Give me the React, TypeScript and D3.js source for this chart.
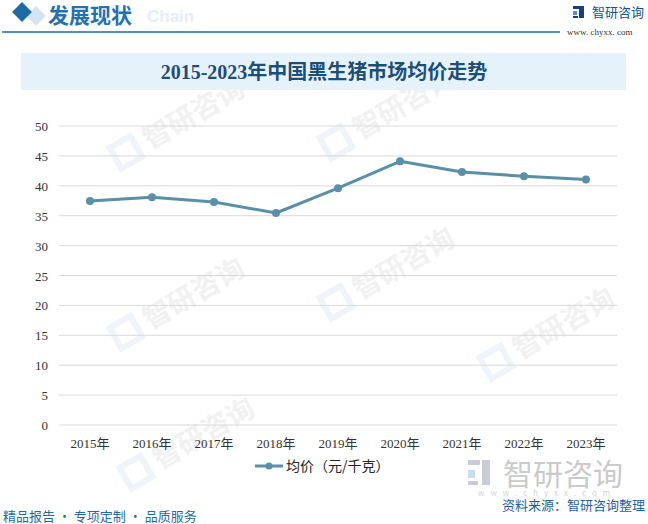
import React from "react";
import * as d3 from "d3";

const years = ["2015年", "2016年", "2017年", "2018年", "2019年", "2020年", "2021年", "2022年", "2023年"];
const prices = [37.45, 38.1, 37.3, 35.45, 39.6, 44.1, 42.3, 41.6, 41.05];
const yTicks = [0, 5, 10, 15, 20, 25, 30, 35, 40, 45, 50];
const seriesName = "均价（元/千克）";
const chartTitle = "2015-2023年中国黑生猪市场均价走势";

const W = 648;
const H = 524;
const left = 59;
const right = 617;
const top = 126;
const bottom = 425;
const lineColor = "#5a8fa8";

export default function App() {
  const x = d3.scaleBand<string>().domain(years).range([left, right]);
  const y = d3.scaleLinear().domain([0, 50]).range([bottom, top]);
  const cx = (d: string) => (x(d) as number) + x.bandwidth() / 2;
  const line = d3
    .line<number>()
    .x((_, i) => cx(years[i]))
    .y((v) => y(v));

  const wm = [
    [150, 150], [360, 140], [150, 330], [360, 300], [520, 360], [160, 470],
  ];

  return (
    <svg
      width={W}
      height={H}
      style={{ position: "absolute", left: 0, top: 0, background: "#fff" }}
      fontFamily="'Noto Sans CJK SC', sans-serif"
    >
      <defs>
        <linearGradient id="fl" x1="0" x2="1" y1="0" y2="0">
          <stop offset="0" stopColor="#1f5f98" />
          <stop offset="1" stopColor="#8fb4d2" />
        </linearGradient>
      </defs>
      {/* faint watermarks */}
      {wm.map(([wx, wy], i) => (
        <g key={i} transform={`translate(${wx},${wy}) rotate(-30)`}>
          <rect x={-34} y={-22} width={24} height={24} fill="none" stroke="#eef4f9" strokeWidth={6} />
          <text x={0} y={0} fontSize={28} fill="#f1f1f1" fontWeight={700}>智研咨询</text>
        </g>
      ))}

      {/* header */}
      <rect x={24} y={4} width={14} height={14} fill="#d3e3f0" transform="rotate(45 31 11) translate(7 0)" />
      <rect x={15} y={5} width={14} height={14} fill="#1c6aa6" transform="rotate(45 22 12)" />
      <text x={147} y={22} fontSize={17} fontWeight={700} fill="#e4eef8" fontFamily="'Liberation Sans', Arial, sans-serif">Chain</text>
      <text x={48} y={23} fontSize={21} fontWeight={700} fill="#2271b3">发展现状</text>
      <line x1={2} x2={560} y1={32} y2={32} stroke="#1f6aa5" strokeWidth={1.5} />
      <g>
        <rect x={573} y={6} width={6} height={3} fill="#1b3f7a" />
        <rect x={573} y={11} width={4} height={4} fill="#4a8fd0" />
        <rect x={579} y={6} width={5} height={12} fill="#1b3f7a" />
        <rect x={573} y={16} width={5} height={2} fill="#1b3f7a" />
      </g>
      <text x={592} y={17} fontSize={13} fill="#1a4f8a">智研咨询</text>
      <text x={567} y={35} fontSize={9} fill="#333" fontFamily="'Liberation Serif', serif">www. chyxx. com</text>

      {/* title band */}
      <rect x={21} y={53} width={605} height={37} fill="#e6f2fa" />
      <text
        x={324}
        y={79}
        textAnchor="middle"
        fontSize={20}
        fontWeight={700}
        fill="#1d4e78"
        fontFamily="'Liberation Serif', 'Noto Sans CJK SC', serif"
      >
        {chartTitle}
      </text>

      {/* grid + y axis */}
      {yTicks.map((t) => (
        <g key={t}>
          <line x1={left} x2={right} y1={y(t)} y2={y(t)} stroke="#d9d9d9" strokeWidth={1} />
          <text
            x={48}
            y={y(t) + 5}
            textAnchor="end"
            fontSize={13}
            fill="#333"
            fontFamily="'Liberation Serif', serif"
          >
            {t}
          </text>
        </g>
      ))}

      {/* x labels */}
      {years.map((yr) => (
        <text key={yr} x={cx(yr)} y={448} textAnchor="middle" fontSize={13} fill="#333"
          fontFamily="'Liberation Serif', 'Noto Sans CJK SC', serif">
          {yr}
        </text>
      ))}

      {/* series */}
      <path d={line(prices) || ""} fill="none" stroke={lineColor} strokeWidth={3} strokeLinejoin="round" />
      {prices.map((v, i) => (
        <circle key={i} cx={cx(years[i])} cy={y(v)} r={4} fill={lineColor} />
      ))}

      {/* legend */}
      <line x1={255} x2={283} y1={466} y2={466} stroke={lineColor} strokeWidth={3} />
      <circle cx={269} cy={466} r={3.5} fill={lineColor} />
      <text x={286} y={471} fontSize={14} fill="#222">{seriesName}</text>

      {/* bottom watermark logo */}
      <g opacity={0.55}>
        <rect x={468} y={460} width={12} height={5} fill="#9aa4b4" />
        <rect x={468} y={470} width={7} height={8} fill="#9fc0e0" />
        <rect x={482} y={460} width={8} height={25} fill="#9aa4b4" />
        <rect x={468} y={481} width={10} height={4} fill="#9aa4b4" />
        <text x={503} y={485} fontSize={30} fill="#a0a0a0">智研咨询</text>
        <text x={478} y={496} fontSize={8} fill="#b0b0b0" letterSpacing={6}>www.chyxx.com</text>
      </g>

      {/* footer */}
      <line x1={2} x2={466} y1={502} y2={502} stroke="url(#fl)" strokeWidth={1.5} />
      <text x={502} y={510} fontSize={13} fill="#1f5fa0">资料来源：智研咨询整理</text>
      <text x={3} y={521} fontSize={13} fill="#1f6aa5">精品报告 · 专项定制 · 品质服务</text>
    </svg>
  );
}
